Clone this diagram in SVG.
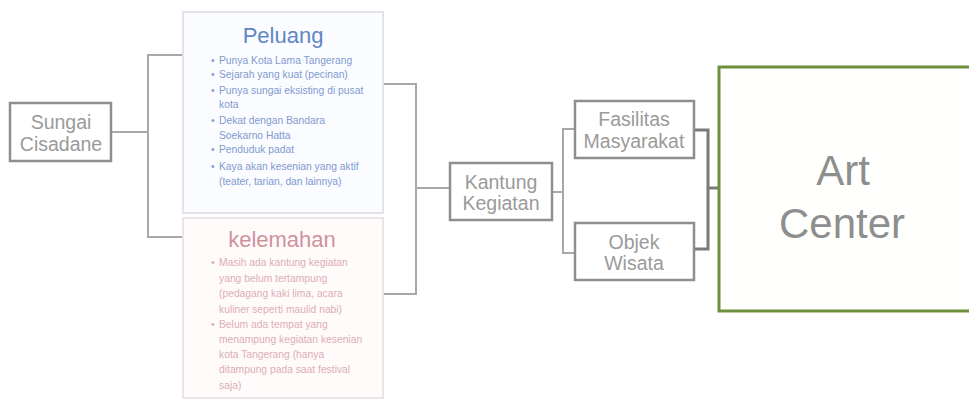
<svg xmlns="http://www.w3.org/2000/svg" width="969" height="400" viewBox="0 0 969 400">
<style>
.box{fill:#fff;stroke:#8e8e8e;stroke-width:2.5}
.lbl{font-family:"Liberation Sans",Arial,sans-serif;font-size:19.5px;fill:#9a9a9a;text-anchor:middle}
.con{fill:none;stroke:#a8a8a8;stroke-width:2}
.conD{fill:none;stroke:#7a7a7a;stroke-width:3}
.pb{font-family:"Liberation Sans",Arial,sans-serif;font-size:10.3px;fill:#819ad0}
.kb{font-family:"Liberation Sans",Arial,sans-serif;font-size:10.3px;fill:#ddadb5}
</style>
<rect width="969" height="400" fill="#fff"/>
<g id="connectors">
<path class="con" d="M111,132 H148 M183,55 H148 V237 H183"/>
<path class="con" d="M383,84 H416 V294 H383 M416,188 H450"/>
<path class="con" d="M552,192 H563 M575,129 H563 V253 H575"/>
<path class="conD" d="M694,130 H708 V249 H694 M708,188 H719"/>
</g>
<g id="sungai">
<rect class="box" x="10" y="103" width="101" height="58"/>
<text class="lbl" x="61" y="129">Sungai</text>
<text class="lbl" x="61" y="151">Cisadane</text>
</g>
<g id="peluang">
<rect x="183" y="12" width="200" height="201" fill="#fbfcff" stroke="#e2e4ea" stroke-width="2"/>
<text x="283" y="43" font-family="Liberation Sans, Arial, sans-serif" font-size="22" fill="#5f86c6" text-anchor="middle">Peluang</text>
<g class="pb">
<text x="211" y="64">•</text><text x="219" y="64">Punya Kota Lama Tangerang</text>
<text x="211" y="78">•</text><text x="219" y="78">Sejarah yang kuat (pecinan)</text>
<text x="211" y="94">•</text><text x="219" y="94">Punya sungai eksisting di pusat</text>
<text x="219" y="108">kota</text>
<text x="211" y="124">•</text><text x="219" y="124">Dekat dengan Bandara</text>
<text x="219" y="139">Soekarno Hatta</text>
<text x="211" y="153">•</text><text x="219" y="153">Penduduk padat</text>
<text x="211" y="170">•</text><text x="219" y="170">Kaya akan kesenian yang aktif</text>
<text x="219" y="185">(teater, tarian, dan lainnya)</text>
</g>
</g>
<g id="kelemahan">
<rect x="183" y="218" width="200" height="180" fill="#fffbfb" stroke="#ece4e4" stroke-width="2"/>
<text x="282" y="247" font-family="Liberation Sans, Arial, sans-serif" font-size="22" fill="#cf929c" text-anchor="middle">kelemahan</text>
<g class="kb">
<text x="211" y="266">•</text><text x="219" y="266">Masih ada kantung kegiatan</text>
<text x="219" y="282">yang belum tertampung</text>
<text x="219" y="297">(pedagang kaki lima, acara</text>
<text x="219" y="313">kuliner seperti maulid nabi)</text>
<text x="211" y="328">•</text><text x="219" y="328">Belum ada tempat yang</text>
<text x="219" y="343">menampung kegiatan kesenian</text>
<text x="219" y="358">kota Tangerang (hanya</text>
<text x="219" y="373">ditampung pada saat festival</text>
<text x="219" y="389">saja)</text>
</g>
</g>
<g id="kantung">
<rect class="box" x="450" y="163" width="102" height="57"/>
<text class="lbl" x="501" y="189">Kantung</text>
<text class="lbl" x="501" y="210">Kegiatan</text>
</g>
<g id="fasilitas">
<rect class="box" x="575" y="101" width="119" height="57"/>
<text class="lbl" x="634" y="126">Fasilitas</text>
<text class="lbl" x="634" y="148">Masyarakat</text>
</g>
<g id="objek">
<rect class="box" x="575" y="223" width="119" height="57"/>
<text class="lbl" x="634" y="249">Objek</text>
<text class="lbl" x="634" y="270">Wisata</text>
</g>
<g id="artcenter">
<rect x="719" y="67" width="260" height="244" fill="#fffffd" stroke="#6f8f3e" stroke-width="3"/>
<text x="843" y="185" font-family="Liberation Sans, Arial, sans-serif" font-size="42" fill="#8e8e8e" text-anchor="middle">Art</text>
<text x="842" y="238" font-family="Liberation Sans, Arial, sans-serif" font-size="42" fill="#8e8e8e" text-anchor="middle">Center</text>
</g>
</svg>
